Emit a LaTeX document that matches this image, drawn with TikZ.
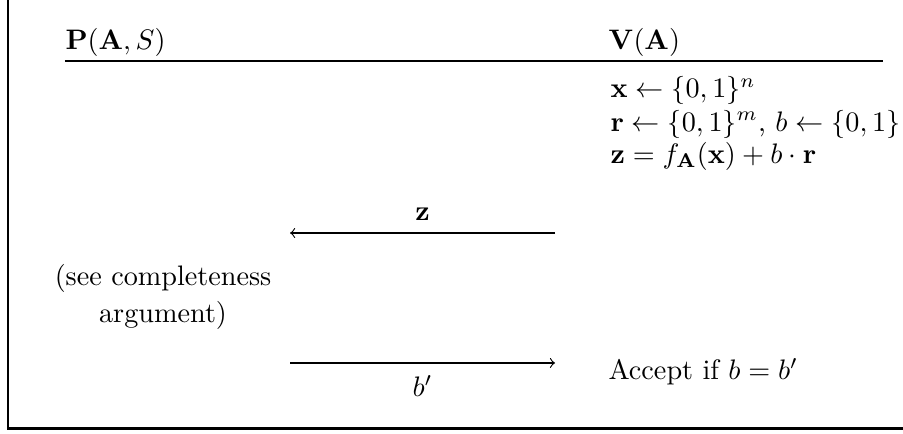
\documentclass[tikz,border=0pt]{standalone}
\usepackage{amsmath}
\usepackage{tikz}
\usetikzlibrary{positioning, calc}

\begin{document}
\begin{tikzpicture}[
        party/.style={anchor=base west, inner sep=0pt},
        vstep/.style={anchor=base west, inner sep=0pt},
        msg/.style={->},
        frame/.style={line width=0.8pt}
    ]
    \useasboundingbox (0,0) rectangle (11.255,-5.397);

    % Frame (left and bottom)
    \draw[frame] (0.10,0) |- (11.255,-5.341);

    % Parties
    \node[party] (prover) at (0.81,-0.611) {$\mathbf{P}(\mathbf{A},S)$};
    \node[party] (verifier) at (7.578,-0.611) {$\mathbf{V}(\mathbf{A})$};
    \draw[line width=0.4pt] (0.81,-0.76) -- (11.006,-0.76);

    % Verifier's steps
    \node[vstep] (v1) at (7.603,-1.221) {$\mathbf{x} \leftarrow \{0,1\}^n$};
    \node[vstep] (v2) at (7.603,-1.633) {$\mathbf{r} \leftarrow \{0,1\}^m$, $b \leftarrow \{0,1\}$};
    \node[vstep] (v3) at (7.603,-2.032) {$\mathbf{z} = f_{\mathbf{A}}(\mathbf{x}) + b \cdot \mathbf{r}$};

    % Message z
    \coordinate (zstart) at (6.918,-2.904);
    \coordinate (zend) at (3.615,-2.904);
    \draw[msg] (zstart) -- node[above=1pt] (zlabel) {$\mathbf{z}$} (zend);

    % Prover's answer
    \node[align=center] (answer) at (2.032,-3.702) {(see completeness\\[1pt]argument)};

    % Message b'
    \coordinate (bstart) at (3.615,-4.524);
    \coordinate (bend) at (6.918,-4.524);
    \draw[msg] (bstart) -- node[below=1pt] (blabel) {$b'$} (bend);

    % Decision
    \node[vstep] (accept) at (7.578,-4.736) {Accept if $b = b'$};

\end{tikzpicture}
\end{document}
